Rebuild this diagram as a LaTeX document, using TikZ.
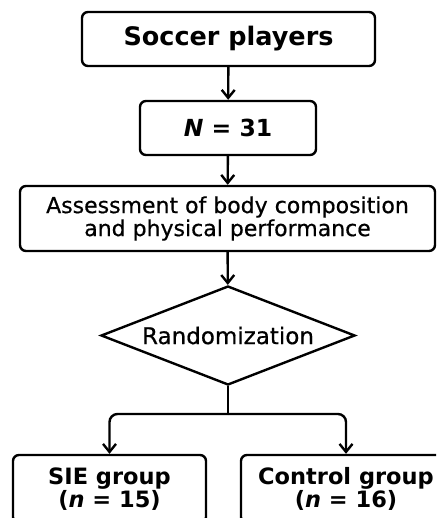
\documentclass[tikz,border=0pt]{standalone}
\usepackage{fontspec}
\setmainfont{DejaVu Sans}
\newfontfamily\medfont[FakeBold=0.6]{DejaVu Sans}
\usetikzlibrary{shapes.geometric,arrows.meta}
\tikzset{
  box/.style={draw, line width=2.4pt, rounded corners=6pt, align=center, inner sep=0pt},
  conn/.style={line width=2.4pt, -{Straight Barb[length=8pt,width=13pt,line width=2.4pt]}},
  plain/.style={line width=2.4pt},
}
\begin{document}
\begin{tikzpicture}[x=1pt,y=-1pt]
\useasboundingbox (0,0) rectangle (436,518);
\clip (0,0) rectangle (436,518);
\fill[white] (0,0) rectangle (436,518);
\node[box, minimum width=293pt, minimum height=54pt, font=\fontsize{25.5}{30}\selectfont\bfseries] (b1) at (228.5,39)
  {Soccer players};
\node[box, minimum width=176pt, minimum height=54pt, font=\fontsize{23.5}{28}\selectfont\bfseries] (b2) at (228,128)
  {\itshape N\upshape{} = 31};
\node[box, minimum width=415pt, minimum height=65pt, font=\fontsize{22}{23}\selectfont\medfont] (b3) at (227.5,218.5)
  {Assessment of body composition\\ and physical performance};
\node[draw, shape=diamond, aspect=2.6, line width=2.4pt, inner sep=0pt, minimum width=254pt, minimum height=99pt, font=\fontsize{23}{27}\selectfont\medfont] (d) at (228,335.5)
  {Randomization};
\node[box, minimum width=193pt, minimum height=68pt, font=\fontsize{22.5}{22.5}\selectfont\bfseries] (b4) at (109.5,489)
  {SIE group\\ (\textit{n} = 15)};
\node[box, minimum width=210pt, minimum height=68pt, font=\fontsize{22.5}{22.5}\selectfont\bfseries] (b5) at (346,489)
  {Control group\\ (\textit{n} = 16)};
\coordinate (j) at (228,414);
\draw[conn] (b1) -- (b2);
\draw[conn] (b2) -- (b3);
\draw[conn] (b3) -- (d);
\draw[plain] (d.south) -- (j);
\draw[conn, rounded corners=8pt] (j) -| (b4.north);
\draw[conn, rounded corners=8pt] (j) -| (b5.north);
\end{tikzpicture}
\end{document}
